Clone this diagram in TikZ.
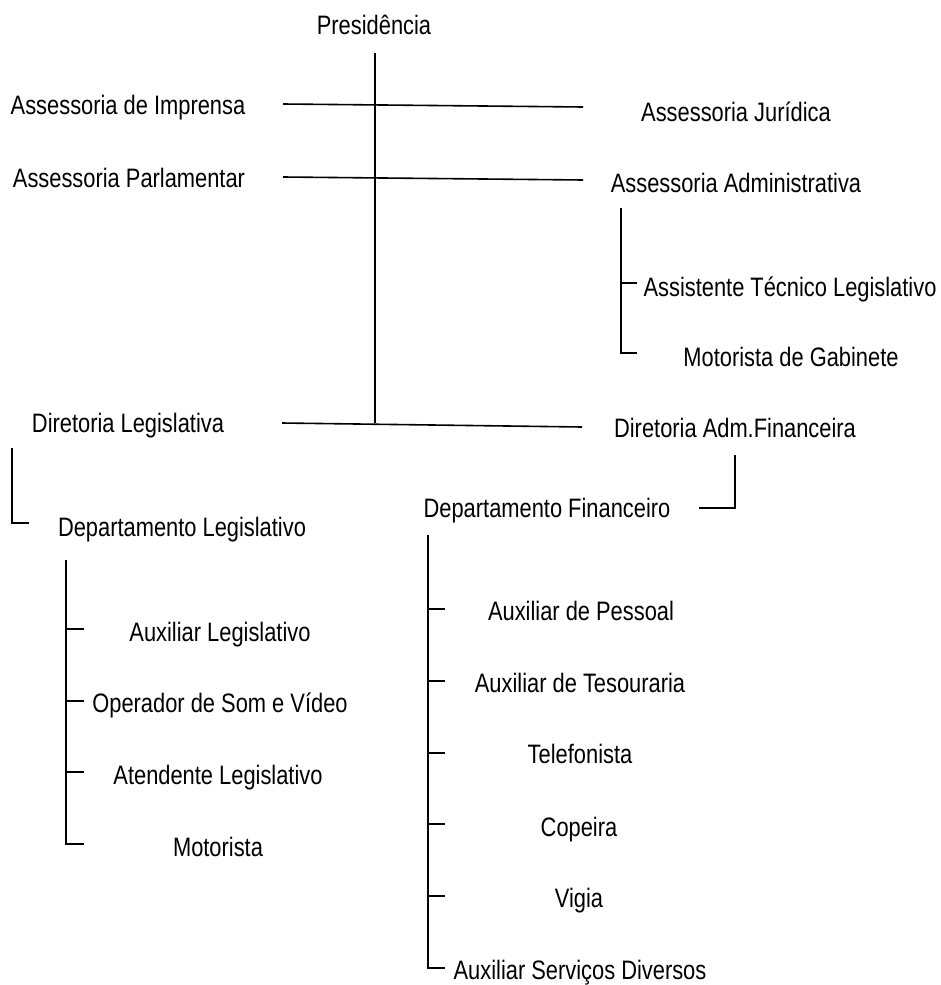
\documentclass[tikz,border=0pt]{standalone}
\usepackage{fontspec}
\setmainfont{Liberation Sans}[FakeStretch=0.82]
\usepackage{tikz}
\usetikzlibrary{positioning}

\tikzset{
  cargo/.style={inner sep=0pt, text height=14.3pt, text depth=0pt,
    font=\fontsize{20}{24}\selectfont},
  linha/.style={line width=1.2pt}
}

\begin{document}
\begin{tikzpicture}[x=0.75pt,y=-0.75pt]
\useasboundingbox (0,0) rectangle (941,985);

\node[cargo] (pres) at (374,25) {Presidência};
\node[cargo] (imp)  at (128,105) {Assessoria de Imprensa};
\node[cargo] (jur)  at (736,112) {Assessoria Jurídica};
\node[cargo] (parl) at (129,178) {Assessoria Parlamentar};
\node[cargo] (adm)  at (736,183) {Assessoria Administrativa};
\node[cargo] (atl)  at (790,287) {Assistente Técnico Legislativo};
\node[cargo] (motg) at (791,357) {Motorista de Gabinete};
\node[cargo] (dirl) at (128,423) {Diretoria Legislativa};
\node[cargo] (dirf) at (735,428) {Diretoria Adm.Financeira};
\node[cargo] (depl) at (182,527) {Departamento Legislativo};
\node[cargo] (depf) at (547,508) {Departamento Financeiro};

\node[cargo] (auxl) at (220,632) {Auxiliar Legislativo};
\node[cargo] (oper) at (220,703) {Operador de Som e Vídeo};
\node[cargo] (aten) at (218,775) {Atendente Legislativo};
\node[cargo] (mot)  at (218,847) {Motorista};

\node[cargo] (pess) at (581,611) {Auxiliar de Pessoal};
\node[cargo] (tes)  at (580,683) {Auxiliar de Tesouraria};
\node[cargo] (tel)  at (580,754) {Telefonista};
\node[cargo] (cop)  at (579,827) {Copeira};
\node[cargo] (vig)  at (579,898) {Vigia};
\node[cargo] (serv) at (580,970) {Auxiliar Serviços Diversos};

% tronco da presidencia
\coordinate (t0) at (375,53);
\coordinate (t1) at (375,423);
\draw[linha] (t0) -- (t1);

\coordinate (a1) at (283,104);
\coordinate (b1) at (583,107);
\draw[linha] (a1) -- (b1);
\coordinate (a2) at (283,177);
\coordinate (b2) at (583,180);
\draw[linha] (a2) -- (b2);
\coordinate (a3) at (282,423);
\coordinate (b3) at (582,427);
\draw[linha] (a3) -- (b3);

% assessoria administrativa
\coordinate (c0) at (621,208);
\coordinate (c1) at (621,283);
\coordinate (c2) at (621,353);
\draw[linha] (c0) -- (c2) -- (637,353);
\draw[linha] (c1) -- (637,283);

% diretorias -> departamentos
\coordinate (d0) at (12,448);
\coordinate (d1) at (12,523);
\draw[linha] (d0) -- (d1) -- (29,523);
\coordinate (e0) at (735,455);
\coordinate (e1) at (735,508);
\draw[linha] (e0) -- (e1) -- (699,508);

% departamento legislativo
\coordinate (f0) at (66,560);
\coordinate (f1) at (66,844);
\draw[linha] (f0) -- (f1) -- (84,844);
\foreach \yy in {629,701,772}
  \draw[linha] (66,\yy) -- (84,\yy);

% departamento financeiro
\coordinate (g0) at (428,535);
\coordinate (g1) at (428,968);
\draw[linha] (g0) -- (g1) -- (445,968);
\foreach \yy in {609,681,753,824,896}
  \draw[linha] (428,\yy) -- (445,\yy);
\end{tikzpicture}
\end{document}
